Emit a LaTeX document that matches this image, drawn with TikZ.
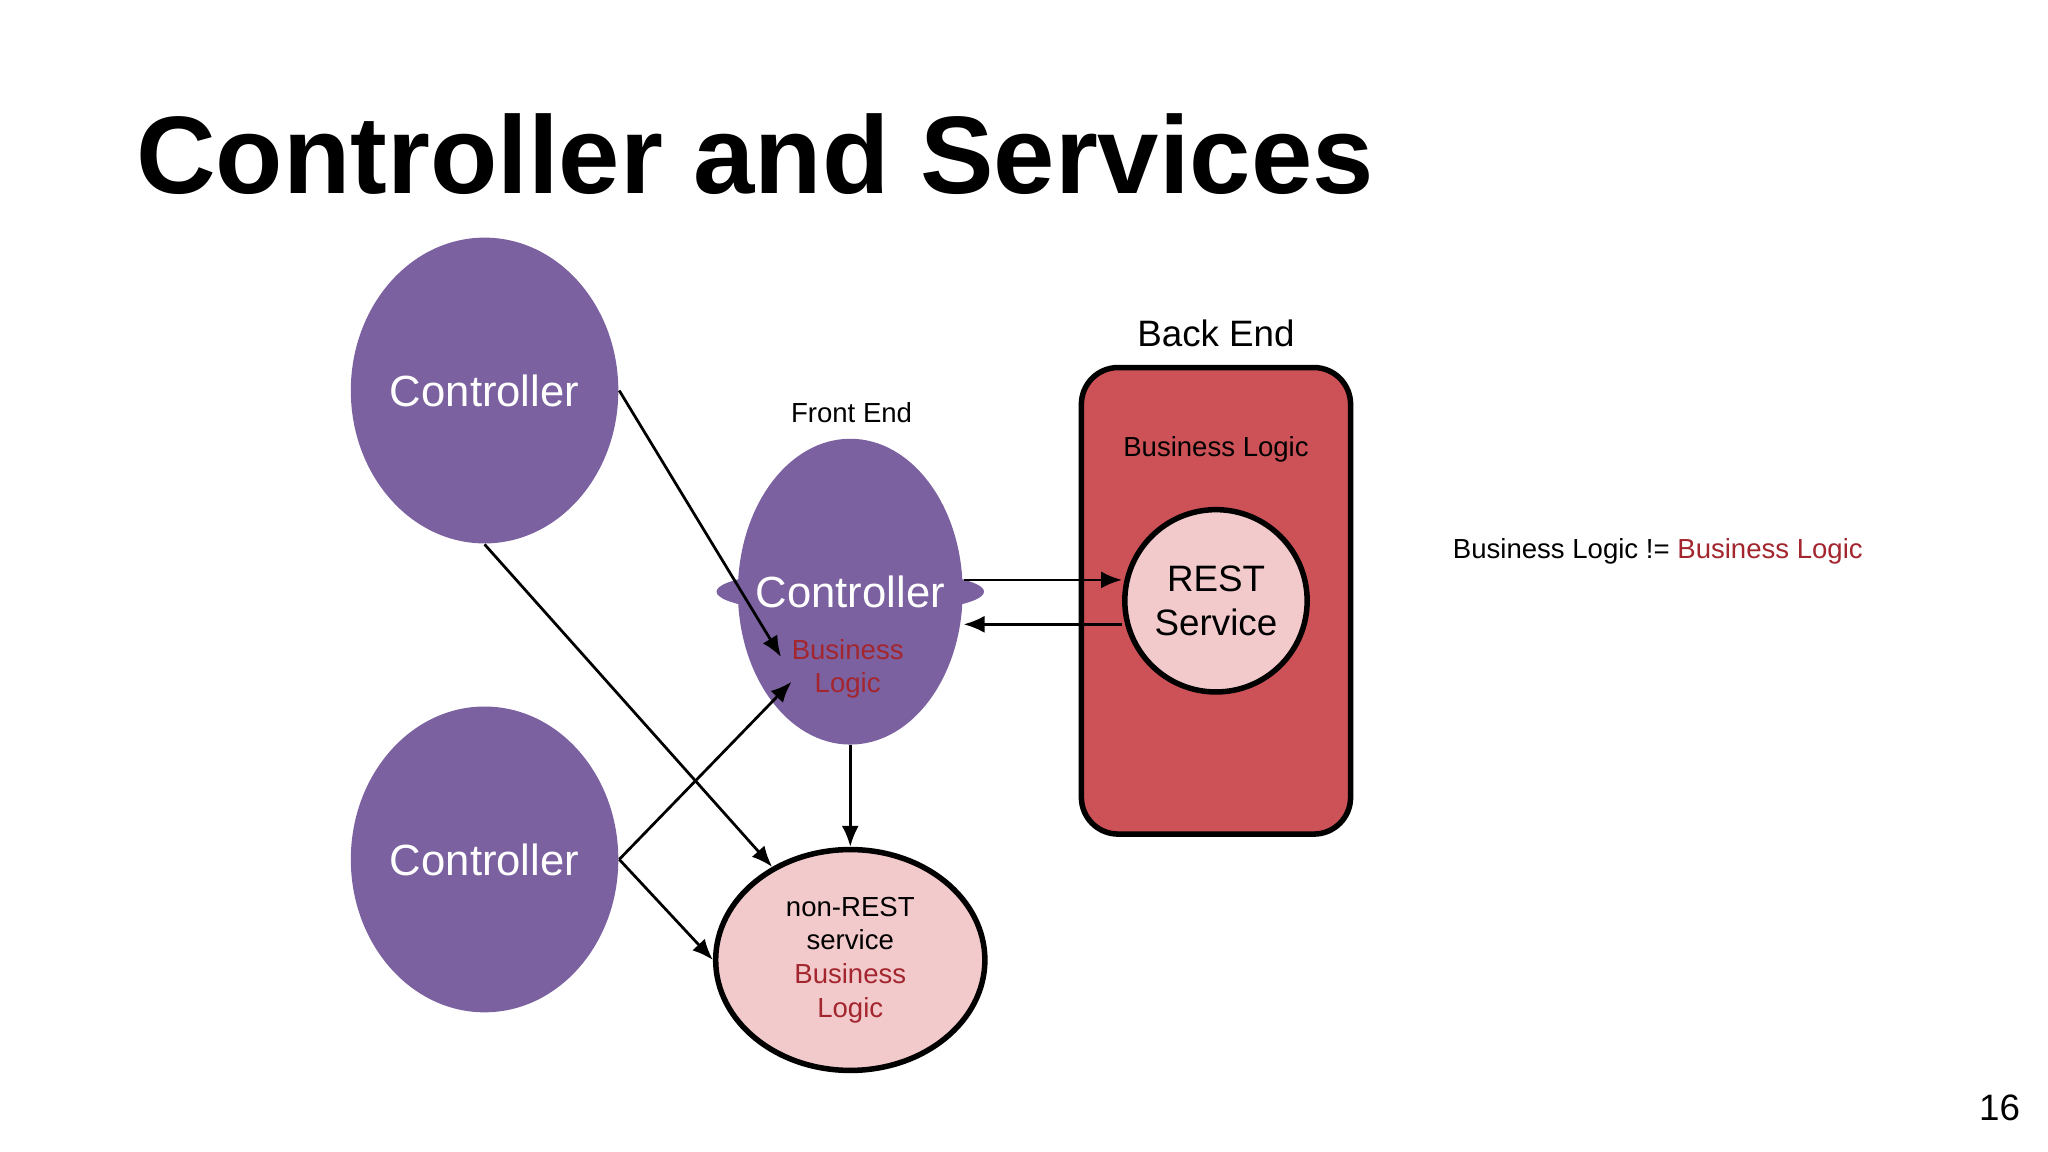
\documentclass[tikz,border=0pt]{standalone}
\usepackage{fontspec}
\setmainfont{Liberation Sans}
\usetikzlibrary{positioning,shapes.geometric,arrows.meta}
\definecolor{ctrlpurple}{HTML}{7B61A0}
\definecolor{bizred}{HTML}{A3262F}
\definecolor{backred}{HTML}{CD5257}
\definecolor{palepink}{HTML}{F2CACC}
\tikzset{
  ctrl/.style = {ellipse, fill=ctrlpurple, minimum width=1.72cm,
                 minimum height=2.34cm, inner sep=0pt, text=white,
                 font=\fontsize{9.5}{11}\selectfont, align=center},
  lbl/.style = {font=\fontsize{6}{7.3}\selectfont, align=center},
  arr/.style = {-{Latex[length=1.6mm,width=1.3mm]}, line width=0.6pt}
}
\begin{document}
\begin{tikzpicture}[x=0.01cm, y=-0.01cm]
  \useasboundingbox (0,0) rectangle (1568,882);
  \node[anchor=base west, font=\bfseries\fontsize{24}{28}\selectfont] (title)
    at (92,148) {Controller and Services};
  % controllers
  \node[ctrl] (c1) at (371,299) {Controller};
  \node[ctrl] (c2) at (371,658) {Controller};
  \node[ctrl] (fe) at (651,453) {};
  \node[ctrl, minimum size=0pt, ellipse=false] (felbl) at (651,453) {Controller};
  \node[lbl, text=bizred] (febiz) at (649,512) {Business\\Logic};
  \node[lbl] (fetitle) at (652,316) {Front End};
  % back end
  \node[draw, line width=1.2pt, rounded corners=8pt, fill=backred,
        minimum width=2.06cm, minimum height=3.57cm] (be) at (931,460) {};
  \node[font=\fontsize{8}{9}\selectfont] (betitle) at (931,255) {Back End};
  \node[lbl] (bebiz) at (931,344) {Business Logic};
  \node[circle, draw, line width=1.2pt, fill=palepink, minimum size=1.16cm,
        font=\fontsize{8}{9.5}\selectfont, align=center] (rest) at (931,460) {REST\\Service};
  % non-REST
  \node[ellipse, draw, line width=1.2pt, fill=palepink, minimum width=2.06cm,
        minimum height=1.68cm, lbl] (nrs) at (651,735)
        {non-REST\\service\\\textcolor{bizred}{Business}\\\textcolor{bizred}{Logic}};
  \coordinate (fein1) at (598,503);
  \coordinate (fein2) at (606,522);
  % connectors
  \draw[arr] (c1.east) -- (fein1);
  \draw[arr] (c1.south) -- (nrs.130);
  \draw[arr] (c2.east) -- (fein2);
  \draw[arr] (c2.east) -- (nrs.west);
  \draw[arr] (fe.south) -- (nrs.north);
  \draw[arr] (fe.east |- 0,444) -- (rest.west |- 0,444);
  \draw[arr] (rest.west |- 0,478) -- (fe.east |- 0,478);
  % notes
  \node[lbl, anchor=west] (note) at (1100,422)
    {Business Logic != \textcolor{bizred}{Business Logic}};
  \node[font=\fontsize{8}{9}\selectfont] (pagenum) at (1531,848) {16};
\end{tikzpicture}
\end{document}
